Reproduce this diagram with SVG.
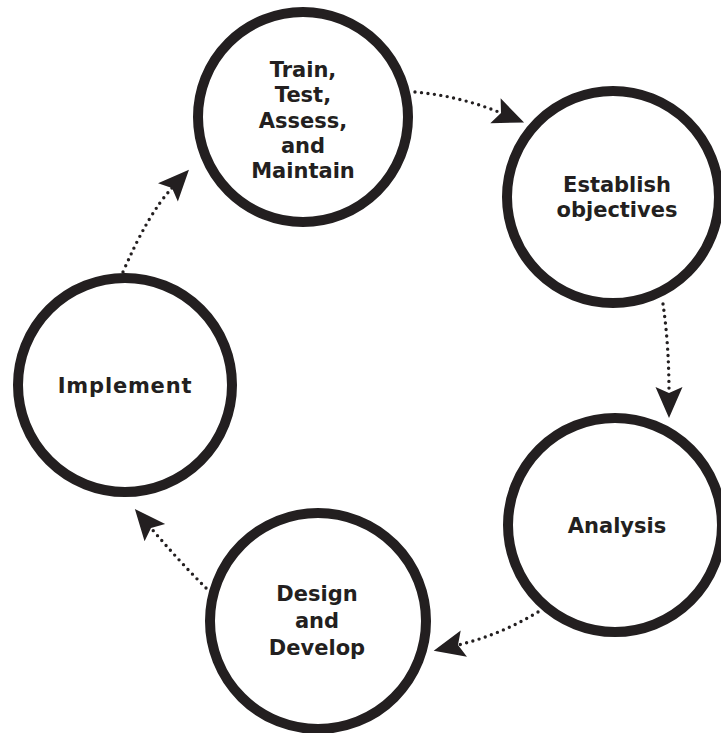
<svg xmlns="http://www.w3.org/2000/svg" width="721" height="733" viewBox="0 0 721 733">
<defs>
<style>
.node circle{fill:#fff;stroke:#231f20;stroke-width:10}
.node text{font-family:"DejaVu Sans",Verdana,sans-serif;font-weight:bold;font-size:21px;fill:#231f20;text-anchor:middle}
.conn path{fill:none;stroke:#231f20;stroke-width:3.4;stroke-linecap:round;stroke-dasharray:0 6.5;marker-end:url(#ah)}
</style>
<marker id="ah" markerUnits="userSpaceOnUse" markerWidth="60" markerHeight="60" refX="0" refY="0" orient="auto" overflow="visible">
<path d="M25,0 L-6,-13.5 L0,0 L-6,13.5 Z" fill="#231f20"/>
</marker>
</defs>
<rect width="721" height="733" fill="#fff"/>
<g id="connectors" class="conn">
<path d="M415,92 Q460,96 501,113"/>
<path d="M663,304 Q669,345 669,393"/>
<path d="M538,612 Q500,635 458,645"/>
<path d="M206,588 Q178,560 151,528"/>
<path d="M123,272 Q148,214 172,188"/>
</g>
<g id="node-train" class="node">
<circle cx="303" cy="117" r="105"/>
<text x="303" y="77">Train,</text>
<text x="303" y="102">Test,</text>
<text x="303" y="127.5">Assess,</text>
<text x="303" y="153">and</text>
<text x="303" y="178">Maintain</text>
</g>
<g id="node-establish" class="node">
<circle cx="613" cy="197" r="106"/>
<text x="617" y="192">Establish</text>
<text x="617" y="217">objectives</text>
</g>
<g id="node-analysis" class="node">
<circle cx="615" cy="525" r="107"/>
<text x="617" y="533">Analysis</text>
</g>
<g id="node-design" class="node">
<circle cx="318" cy="621" r="108"/>
<text x="317" y="601">Design</text>
<text x="317" y="628">and</text>
<text x="317" y="655">Develop</text>
</g>
<g id="node-implement" class="node">
<circle cx="125" cy="385" r="107"/>
<text x="125" y="393" letter-spacing="0.8">Implement</text>
</g>
</svg>
